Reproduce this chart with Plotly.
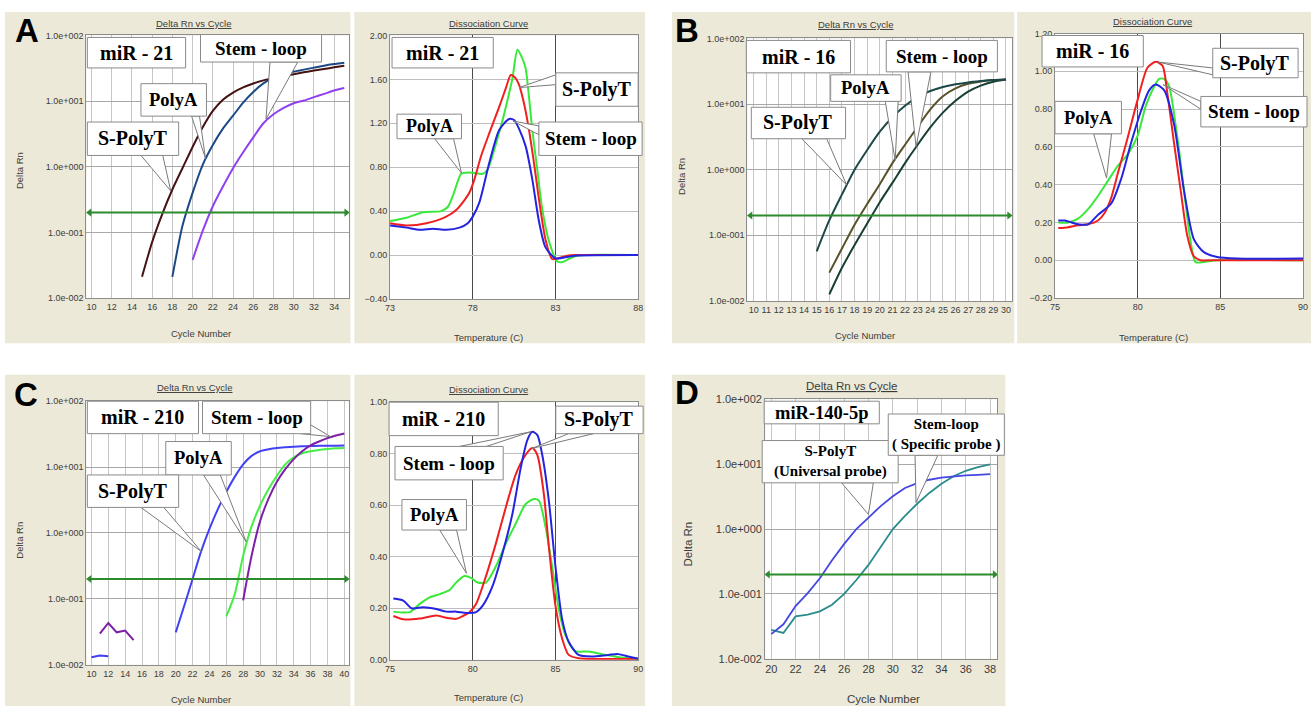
import plotly.graph_objects as go

W, H = 1316, 712

# ======================= DATA =======================
THRESHOLD = 0.2
AMP_TICK_VALS = [0.01, 0.1, 1, 10, 100]
AMP_TICK_TEXT = ["1.0e-002", "1.0e-001", "1.0e+000", "1.0e+001", "1.0e+002"]

# --- A: miR-21 amplification (Delta Rn vs cycle) ---
A_spolyt_cycles = list(range(15, 36))
A_spolyt_rn = [0.021, 0.071, 0.19, 0.45, 0.95, 2.0, 4.0, 7.1, 10.5, 13.5, 16.2, 18.6,
               20.7, 22.4, 24.0, 25.7, 27.5, 29.2, 30.9, 32.7, 34.7]
A_polya_cycles = list(range(18, 36))
A_polya_rn = [0.021, 0.126, 0.40, 1.07, 2.14, 3.8, 6.0, 9.5, 13.8, 18.6, 22.9, 25.7,
              28.2, 30.2, 32.4, 34.7, 36.7, 38.5]
A_stem_cycles = list(range(20, 36))
A_stem_rn = [0.038, 0.105, 0.25, 0.50, 0.95, 1.66, 2.8, 4.6, 6.3, 7.9, 9.3, 10.2,
             11.5, 12.9, 14.5, 15.8]

# --- A: miR-21 dissociation ---
A_dis_polya_T = [73.0, 74.0, 75.0, 76.1, 76.5, 76.8, 77.3, 77.6, 78.0, 78.6, 78.9, 79.3, 79.7,
                 80.1, 80.4, 80.7, 81.0, 81.2, 81.4, 81.6, 81.9, 82.2, 82.6, 83.1, 83.4, 83.8,
                 84.2, 84.8, 88.0]
A_dis_polya = [0.31, 0.34, 0.39, 0.40, 0.44, 0.54, 0.74, 0.75, 0.75, 0.74, 0.78, 0.96, 1.17,
               1.41, 1.61, 1.87, 1.79, 1.70, 1.44, 1.14, 0.78, 0.42, 0.13, -0.056, -0.065,
               -0.036, -0.01, 0.0, 0.0]
A_dis_spolyt_T = [73.0, 74.0, 75.2, 76.4, 77.0, 77.5, 77.8, 78.1, 78.5, 79.0, 79.6, 80.0, 80.3,
                  80.6, 80.8, 81.1, 81.4, 81.7, 82.0, 82.4, 82.8, 83.2, 83.7, 84.2, 88.0]
A_dis_spolyt = [0.29, 0.27, 0.29, 0.35, 0.41, 0.50, 0.57, 0.69, 0.90, 1.11, 1.35, 1.52, 1.64,
                1.61, 1.55, 1.38, 1.14, 0.84, 0.51, 0.14, -0.036, -0.027, -0.006, 0.0, 0.0]
A_dis_stem_T = [73.0, 74.0, 74.8, 75.6, 76.4, 77.2, 77.7, 78.0, 78.4, 79.0, 79.6, 80.2, 80.5,
                80.8, 81.2, 81.6, 82.0, 82.4, 83.0, 83.6, 84.2, 88.0]
A_dis_stem = [0.27, 0.25, 0.23, 0.24, 0.23, 0.25, 0.29, 0.35, 0.48, 0.84, 1.14, 1.24, 1.23,
              1.15, 0.99, 0.69, 0.31, 0.07, -0.03, -0.02, -0.006, 0.0]

# --- B: miR-16 amplification ---
B_spolyt_cycles = list(range(15, 31))
B_spolyt_rn = [0.057, 0.17, 0.42, 1.0, 2.0, 3.8, 6.3, 9.4, 12.9, 15.8, 18.2, 20.0, 21.4,
               22.4, 23.2, 23.7]
B_polya_cycles = list(range(16, 31))
B_polya_rn = [0.027, 0.063, 0.145, 0.30, 0.60, 1.26, 2.4, 4.5, 8.3, 13.2, 17.4, 20.4, 22.1,
              23.2, 23.7]
B_stem_cycles = list(range(16, 31))
B_stem_rn = [0.0126, 0.032, 0.071, 0.151, 0.32, 0.63, 1.26, 2.4, 4.4, 7.4, 11.2, 15.5, 19.1,
             21.9, 23.7]

# --- B: miR-16 dissociation ---
B_dis_spolyt_T = [75.2, 75.8, 76.4, 77.0, 77.6, 78.0, 78.4, 78.8, 79.4, 80.0, 80.6, 81.1, 81.5,
                  81.8, 82.2, 82.6, 83.0, 83.4, 83.8, 84.5, 90.0]
B_dis_spolyt = [0.17, 0.175, 0.185, 0.19, 0.21, 0.25, 0.33, 0.46, 0.65, 0.85, 1.02, 1.05, 1.03,
                0.88, 0.62, 0.37, 0.13, 0.02, 0.0, 0.0, 0.0]
B_dis_polya_T = [75.2, 75.8, 76.4, 77.0, 77.6, 78.2, 78.8, 79.4, 80.0, 80.5, 81.0, 81.3, 81.6,
                 81.9, 82.4, 82.8, 83.2, 83.5, 84.0, 84.8, 90.0]
B_dis_polya = [0.20, 0.20, 0.22, 0.27, 0.34, 0.42, 0.50, 0.56, 0.66, 0.82, 0.92, 0.96, 0.96,
               0.92, 0.65, 0.37, 0.10, -0.01, -0.01, 0.0, 0.0]
B_dis_stem_T = [75.2, 75.6, 76.0, 76.4, 77.0, 77.6, 78.4, 79.0, 79.6, 80.2, 80.7, 81.1, 81.6,
                82.2, 82.8, 83.4, 84.0, 84.8, 86.0, 90.0]
B_dis_stem = [0.21, 0.21, 0.20, 0.19, 0.19, 0.24, 0.30, 0.43, 0.62, 0.79, 0.90, 0.93, 0.90,
              0.72, 0.37, 0.11, 0.043, 0.017, 0.009, 0.009]

# --- C: miR-210 amplification ---
C_spolyt_cycles = list(range(20, 41))
C_spolyt_rn = [0.031, 0.078, 0.20, 0.52, 1.15, 2.3, 4.2, 7.1, 11.0, 14.8, 17.4, 18.6, 19.5,
               20.0, 20.4, 20.7, 20.9, 21.0, 21.1, 21.1, 21.2]
C_polya_cycles = list(range(26, 41))
C_polya_rn = [0.054, 0.117, 0.45, 1.26, 2.6, 4.6, 7.4, 11.0, 14.1, 16.2, 17.4, 18.2, 18.8,
              19.3, 19.5]
C_stem_cycles = list(range(28, 41))
C_stem_rn = [0.095, 0.45, 1.5, 3.3, 6.0, 9.3, 13.2, 17.4, 21.4, 24.5, 27.5, 30.2, 32.4]
C_noise_blue_cycles = [10, 11, 12]
C_noise_blue_rn = [0.0130, 0.0138, 0.0134]
C_noise_purple_cycles = [11, 12, 13, 14, 15]
C_noise_purple_rn = [0.0297, 0.043, 0.031, 0.033, 0.0236]

# --- C: miR-210 dissociation ---
C_dis_stem_T = [75.2, 75.8, 76.3, 77.0, 77.8, 78.4, 79.0, 79.6, 80.2, 80.6, 81.2, 81.8, 82.4,
                82.9, 83.3, 83.6, 83.9, 84.2, 84.6, 85.0, 85.4, 85.8, 86.4, 87.2, 88.2, 88.8,
                89.4, 90.0]
C_dis_stem = [0.238, 0.23, 0.20, 0.204, 0.197, 0.187, 0.187, 0.182, 0.185, 0.21, 0.287, 0.414,
              0.567, 0.745, 0.853, 0.885, 0.873, 0.796, 0.618, 0.363, 0.159, 0.07, 0.019,
              0.013, 0.019, 0.022, 0.013, 0.004]
C_dis_spolyt_T = [75.2, 75.8, 76.8, 77.8, 78.4, 79.0, 79.4, 79.8, 80.2, 80.8, 81.4, 82.0, 82.6,
                  83.2, 83.6, 83.9, 84.3, 84.6, 85.0, 85.4, 85.8, 86.4, 90.0]
C_dis_spolyt = [0.17, 0.157, 0.16, 0.172, 0.163, 0.159, 0.17, 0.185, 0.217, 0.325, 0.452, 0.592,
                0.72, 0.796, 0.822, 0.796, 0.643, 0.44, 0.21, 0.083, 0.019, 0.006, 0.004]
C_dis_polya_T = [75.2, 76.2, 76.8, 77.4, 78.0, 78.6, 79.0, 79.5, 79.9, 80.3, 80.8, 81.4, 82.0,
                 82.6, 83.2, 83.7, 84.0, 84.4, 84.8, 85.2, 85.6, 86.2, 87.0, 87.8, 88.6, 89.4,
                 90.0]
C_dis_polya = [0.187, 0.185, 0.217, 0.242, 0.255, 0.271, 0.30, 0.325, 0.318, 0.30, 0.30, 0.363,
               0.452, 0.529, 0.605, 0.624, 0.618, 0.516, 0.363, 0.197, 0.096, 0.034, 0.032,
               0.022, 0.013, 0.006, 0.004]

# --- D: miR-140-5p amplification ---
D_cycles = list(range(20, 39))
D_spolyt_rn = [0.024, 0.034, 0.065, 0.103, 0.174, 0.33, 0.59, 1.0, 1.5, 2.26, 3.2, 4.3, 5.1,
               5.75, 6.2, 6.5, 6.7, 6.85, 7.0]
D_stem_rn = [0.028, 0.025, 0.045, 0.048, 0.054, 0.068, 0.10, 0.164, 0.28, 0.53, 1.0, 1.6, 2.45,
             3.6, 5.0, 6.5, 7.9, 9.0, 9.9]

# ======================= LAYOUT GEOMETRY =======================
def fx(p):
    return p / W


def fy(p):
    return 1 - p / H


PANELS = {
    "A_amp": dict(n=1, px=(82, 347), py=(30, 297), xr=[9.5, 35.5], xt=list(range(10, 35, 2)), kind="amp", fs=9),
    "A_dis": dict(n=2, px=(388, 638), py=(30, 298), xr=[73, 88], xt=[73, 78, 83, 88], kind="dis",
                  yr=[-0.4, 2.0], dy=0.4, fs=9),
    "B_amp": dict(n=3, px=(748, 1015), py=(33, 300), xr=[9.5, 30.5], xt=list(range(10, 31)), kind="amp", fs=9),
    "B_dis": dict(n=4, px=(1058, 1308), py=(28, 297), xr=[75, 90], xt=[75, 80, 85, 90], kind="dis",
                  yr=[-0.2, 1.2], dy=0.2, fs=9),
    "C_amp": dict(n=5, px=(82, 347), py=(402, 670), xr=[9.4, 40.6], xt=list(range(10, 41, 2)), kind="amp", fs=9),
    "C_dis": dict(n=6, px=(388, 638), py=(403, 665), xr=[75, 90], xt=[75, 80, 85, 90], kind="dis",
                  yr=[0, 1.0], dy=0.2, fs=9),
    "D_amp": dict(n=7, px=(766, 1000), py=(400, 664), xr=[19.5, 38.6], xt=list(range(20, 39, 2)), kind="amp", fs=11),
}

BEIGE = "#ECE9D8"
BEIGE_RECTS = [(0, 6, 348, 343), (352, 6, 645, 343), (672, 6, 1017, 343), (1020, 6, 1316, 343),
               (0, 375, 348, 712), (352, 375, 645, 712), (672, 375, 1008, 712)]

SANS = "Liberation Sans, Arial, sans-serif"
SERIF = "Liberation Serif, Times New Roman, serif"

fig = go.Figure()
layout = dict(width=W, height=H, margin=dict(l=0, r=0, t=0, b=0), autosize=False,
              paper_bgcolor="white", plot_bgcolor="white", showlegend=False, hovermode=False)
shapes = []
annotations = []

for x0, y0, x1, y1 in BEIGE_RECTS:
    shapes.append(dict(type="rect", xref="paper", yref="paper", x0=fx(x0), x1=fx(x1), y0=fy(y1), y1=fy(y0),
                       fillcolor=BEIGE, line=dict(width=0), layer="below"))

for key, p in PANELS.items():
    n = p["n"]
    sfx = "" if n == 1 else str(n)
    shapes.append(dict(type="rect", xref="paper", yref="paper", x0=fx(p["px"][0]), x1=fx(p["px"][1]),
                       y0=fy(p["py"][1]), y1=fy(p["py"][0]), fillcolor="white", line=dict(width=0),
                       layer="below"))
    tf = dict(family=SANS, size=p["fs"], color="#3c3c3c")
    xa = dict(domain=[fx(p["px"][0]), fx(p["px"][1])], range=p["xr"], anchor="y" + sfx,
              tickmode="array", tickvals=p["xt"], tickfont=tf, ticks="", showline=True,
              linecolor="#8c8c8c", mirror=True, zeroline=False, fixedrange=True)
    ya = dict(domain=[fy(p["py"][1]), fy(p["py"][0])], anchor="x" + sfx, tickfont=tf, ticks="",
              showline=True, linecolor="#8c8c8c", mirror=True, zeroline=False, fixedrange=True)
    if p["kind"] == "amp":
        xa.update(showgrid=True, gridcolor="#c6c6c6", gridwidth=1)
        ya.update(type="log", range=[-2, 2], tickmode="array", tickvals=AMP_TICK_VALS,
                  ticktext=AMP_TICK_TEXT, showgrid=True, gridcolor="#a8a8a8", gridwidth=1)
    else:
        xa.update(showgrid=True, gridcolor="#4a4a4a", gridwidth=1)
        ya.update(range=p["yr"], tickmode="linear", tick0=p["yr"][0], dtick=p["dy"], tickformat=".2f",
                  showgrid=True, gridcolor="#bdbdbd", gridwidth=1)
    layout["xaxis" + sfx] = xa
    layout["yaxis" + sfx] = ya


def axes_of(key):
    n = PANELS[key]["n"]
    s = "" if n == 1 else str(n)
    return "x" + s, "y" + s


def add_curve(key, x, y, color, width=2.0, shape="spline"):
    xa, ya = axes_of(key)
    line = dict(color=color, width=width, shape=shape)
    if shape == "spline":
        line["smoothing"] = 0.7
    fig.add_trace(go.Scatter(x=x, y=y, mode="lines", line=line, xaxis=xa, yaxis=ya, hoverinfo="skip"))


def add_threshold(key, level):
    xa, ya = axes_of(key)
    xr = PANELS[key]["xr"]
    pad = (xr[1] - xr[0]) * 0.012
    fig.add_trace(go.Scatter(x=[xr[0] + pad, xr[1] - pad], y=[level, level], mode="lines+markers",
                             line=dict(color="#2d8a2d", width=2),
                             marker=dict(symbol=["triangle-left", "triangle-right"], size=7, color="#2d8a2d"),
                             cliponaxis=False, xaxis=xa, yaxis=ya, hoverinfo="skip"))


# A
add_curve("A_amp", A_stem_cycles, A_stem_rn, "#9040f0")
add_curve("A_amp", A_polya_cycles, A_polya_rn, "#1c4a86")
add_curve("A_amp", A_spolyt_cycles, A_spolyt_rn, "#461212")
add_threshold("A_amp", THRESHOLD)
add_curve("A_dis", A_dis_polya_T, A_dis_polya, "#3ae83a")
add_curve("A_dis", A_dis_spolyt_T, A_dis_spolyt, "#f02020")
add_curve("A_dis", A_dis_stem_T, A_dis_stem, "#2424e0")
# B
add_curve("B_amp", B_stem_cycles, B_stem_rn, "#183f33")
add_curve("B_amp", B_polya_cycles, B_polya_rn, "#57522a")
add_curve("B_amp", B_spolyt_cycles, B_spolyt_rn, "#1d4848")
add_threshold("B_amp", THRESHOLD)
add_curve("B_dis", B_dis_polya_T, B_dis_polya, "#3ae83a")
add_curve("B_dis", B_dis_spolyt_T, B_dis_spolyt, "#f02020")
add_curve("B_dis", B_dis_stem_T, B_dis_stem, "#2424e0")
# C
add_curve("C_amp", C_noise_blue_cycles, C_noise_blue_rn, "#4040f0", shape="linear")
add_curve("C_amp", C_noise_purple_cycles, C_noise_purple_rn, "#7d1fa8", shape="linear")
add_curve("C_amp", C_spolyt_cycles, C_spolyt_rn, "#4242f4")
add_curve("C_amp", C_polya_cycles, C_polya_rn, "#44ee44")
add_curve("C_amp", C_stem_cycles, C_stem_rn, "#7d1fa8")
add_threshold("C_amp", THRESHOLD)
add_curve("C_dis", C_dis_polya_T, C_dis_polya, "#3ae83a")
add_curve("C_dis", C_dis_spolyt_T, C_dis_spolyt, "#f02020")
add_curve("C_dis", C_dis_stem_T, C_dis_stem, "#2424e0")
# D
add_curve("D_amp", D_cycles, D_stem_rn, "#2a8c8c", width=1.8, shape="linear")
add_curve("D_amp", D_cycles, D_spolyt_rn, "#4646e0", width=1.8, shape="linear")
add_threshold("D_amp", THRESHOLD)

# ======================= TEXT =======================
LABELS = [
    # text, x, y, size, angle
    ("<u>Delta Rn vs Cycle</u>", 190, 18, 9.5, 0),
    ("Cycle Number", 198, 333, 9.5, 0),
    ("Delta Rn", 14, 167, 9.5, -90),
    ("<u>Dissociation Curve</u>", 487, 18, 9.5, 0),
    ("Temperature (C)", 487, 337, 9.5, 0),
    ("<u>Delta Rn vs Cycle</u>", 858, 19, 9.5, 0),
    ("Cycle Number", 867, 335, 9.5, 0),
    ("Delta Rn", 681, 173, 9.5, -90),
    ("<u>Dissociation Curve</u>", 1156, 16, 9.5, 0),
    ("Temperature (C)", 1157, 337, 9.5, 0),
    ("<u>Delta Rn vs Cycle</u>", 191, 388, 9.5, 0),
    ("Cycle Number", 198, 705, 9.5, 0),
    ("Delta Rn", 15, 543, 9.5, -90),
    ("<u>Dissociation Curve</u>", 487, 390, 9.5, 0),
    ("Temperature (C)", 487, 703, 9.5, 0),
    ("<u>Delta Rn vs Cycle</u>", 853, 387, 11.5, 0),
    ("Cycle Number", 885, 705, 11.5, 0),
    ("Delta Rn", 688, 547, 11.5, -90),
]
for t, x, y, s, a in LABELS:
    annotations.append(dict(text=t, x=fx(x), y=fy(y), xref="paper", yref="paper", showarrow=False,
                            xanchor="center", yanchor="middle", textangle=a,
                            font=dict(family=SANS, size=s, color="#3c3c3c")))

LETTERS = [("A", 22, 25), ("B", 687, 25), ("C", 21, 395), ("D", 687, 393)]
for t, x, y in LETTERS:
    annotations.append(dict(text="<b>%s</b>" % t, x=fx(x), y=fy(y), xref="paper", yref="paper",
                            showarrow=False, xanchor="center", yanchor="middle",
                            font=dict(family=SANS, size=33, color="black")))

CALLOUTS = [
    ("miR - 21", (83, 32, 182, 63), None, 20),
    ("Stem - loop", (197, 29, 319, 57), [(267, 57), (263, 115), (295, 57)], 19),
    ("PolyA", (137, 79, 203, 112), [(188, 112), (202, 155), (196, 112)], 18.5),
    ("S-PolyT", (83, 118, 175, 152), [(137, 152), (167, 188), (159, 152)], 20),
    ("miR - 21", (390, 32, 492, 63), None, 20),
    ("S-PolyT", (555, 68, 638, 102), [(555, 70), (518, 83), (555, 80)], 20),
    ("Stem - loop", (538, 118, 642, 152), [(538, 122), (512, 117), (538, 131)], 19),
    ("PolyA", (395, 110, 460, 135), [(433, 135), (460, 170), (452, 135)], 18),
    ("miR - 16", (747, 35, 852, 68), None, 20),
    ("Stem - loop", (888, 35, 1000, 67), [(910, 67), (918, 143), (933, 67)], 19),
    ("PolyA", (832, 70, 903, 97), [(887, 97), (897, 157), (900, 97)], 18.5),
    ("S-PolyT", (752, 103, 847, 135), [(803, 135), (848, 182), (828, 135)], 20),
    ("miR - 16", (1045, 30, 1147, 62), None, 20),
    ("S-PolyT", (1217, 43, 1303, 73), [(1217, 63), (1162, 57), (1217, 70)], 20),
    ("Stem - loop", (1205, 92, 1312, 123), [(1205, 97), (1167, 80), (1205, 105)], 19),
    ("PolyA", (1058, 97, 1125, 130), [(1097, 130), (1110, 175), (1115, 130)], 18.5),
    ("miR - 210", (83, 402, 195, 435), None, 20),
    ("Stem - loop", (199, 402, 308, 435), [(298, 435), (328, 438), (308, 426)], 19),
    ("PolyA", (162, 443, 228, 477), [(200, 477), (243, 545), (217, 477)], 18.5),
    ("S-PolyT", (83, 477, 175, 510), [(137, 510), (198, 555), (160, 510)], 20),
    ("miR - 210", (387, 403, 497, 437), None, 20),
    ("S-PolyT", (555, 407, 643, 435), [(568, 435), (531, 450), (593, 435)], 20),
    ("Stem - loop", (393, 448, 502, 482), [(458, 448), (530, 433), (485, 448)], 19),
    ("PolyA", (400, 502, 465, 533), [(438, 533), (465, 577), (455, 533)], 18.5),
    ("miR-140-5p", (765, 402, 881, 425), None, 18.5),
    ("S-PolyT<br>(Universal probe)", (763, 442, 900, 485), [(843, 485), (870, 517), (875, 485)], 15),
    ("Stem-loop<br>( Specific probe )", (890, 415, 1007, 457), [(917, 457), (918, 505), (940, 457)], 15),
]
for text, (x0, y0, x1, y1), wedge, size in CALLOUTS:
    if wedge:
        path = "M %f,%f L %f,%f L %f,%f Z" % (fx(wedge[0][0]), fy(wedge[0][1]), fx(wedge[1][0]),
                                             fy(wedge[1][1]), fx(wedge[2][0]), fy(wedge[2][1]))
        shapes.append(dict(type="path", xref="paper", yref="paper", path=path, fillcolor="white",
                           line=dict(color="#7a7a7a", width=1), layer="above"))
    shapes.append(dict(type="rect", xref="paper", yref="paper", x0=fx(x0), x1=fx(x1), y0=fy(y1), y1=fy(y0),
                       fillcolor="white", line=dict(color="#8a8a8a", width=1), layer="above"))
    annotations.append(dict(text="<b>%s</b>" % text, x=fx((x0 + x1) / 2), y=fy((y0 + y1) / 2),
                            xref="paper", yref="paper", showarrow=False, xanchor="center",
                            yanchor="middle", font=dict(family=SERIF, size=size, color="black")))

layout["shapes"] = shapes
layout["annotations"] = annotations
fig.update_layout(**layout)

fig.write_html("out.html", include_plotlyjs=True, config={"displayModeBar": False, "staticPlot": True},
               post_script="document.body.style.margin='0px';document.body.style.overflow='hidden';")
